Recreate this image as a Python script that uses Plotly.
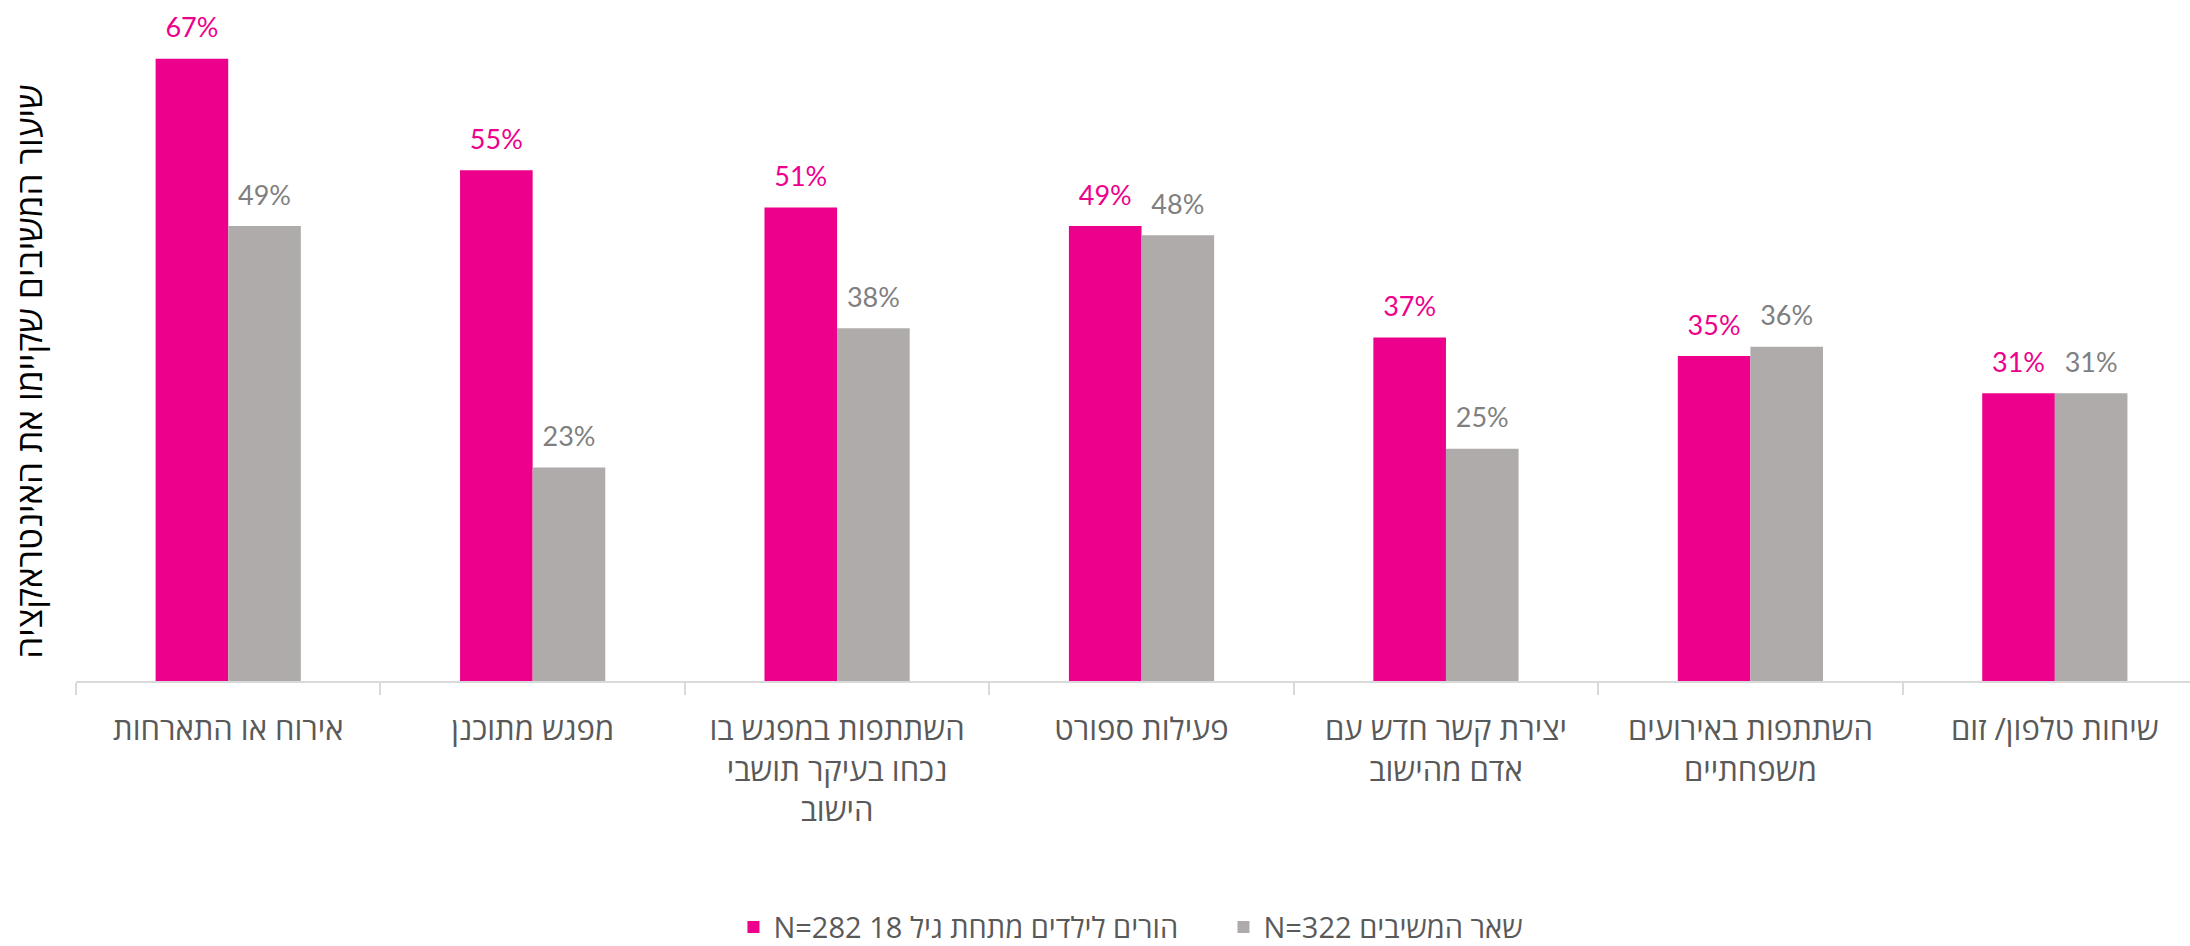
import plotly.graph_objects as go

# Interaction types (x-axis categories, Hebrew)
categories = [
    "אירוח או התארחות",
    "מפגש מתוכנן",
    "השתתפות במפגש בו<br>נכחו בעיקר תושבי<br>הישוב",
    "פעילות ספורט",
    "יצירת קשר חדש עם<br>אדם מהישוב",
    "השתתפות באירועים<br>משפחתיים",
    "שיחות טלפון/ זום",
]

# Share of respondents (%) per group
parents_pct = [67, 55, 51, 49, 37, 35, 31]
others_pct = [49, 23, 38, 48, 25, 36, 31]

series_names = [
    "\u202bהורים לילדים מתחת גיל 18 N=282\u202c",
    "\u202bשאר המשיבים N=322\u202c",
]
y_title = "שיעור המשיבים שקיימו את האינטראקציה"

PINK = "#EC008C"
GREY_BAR = "#AFABAB"
GREY_TEXT = "#7F7F7F"
TEXT_DARK = "#595959"
HEB_FONT = "Open Sans"
NUM_FONT = "Lato"

fig = go.Figure()

for name, vals, color in [
    (series_names[0], parents_pct, PINK),
    (series_names[1], others_pct, GREY_BAR),
]:
    fig.add_trace(go.Bar(
        x=categories, y=vals, name=name,
        marker=dict(color=color, line=dict(width=0)),
        hoverinfo="skip",
    ))

# Value labels above each bar, grouped the same way as the bars
for vals, color in [(parents_pct, PINK), (others_pct, GREY_TEXT)]:
    fig.add_trace(go.Scatter(
        x=categories, y=vals, mode="markers+text",
        text=[f"{v}%" for v in vals], textposition="top center",
        textfont=dict(family=NUM_FONT, size=27, color=color),
        marker=dict(size=22, opacity=0),
        showlegend=False, hoverinfo="skip", cliponaxis=False,
    ))

fig.update_layout(
    width=2190, height=946,
    margin=dict(l=76, r=0, t=31, b=265, autoexpand=False),
    paper_bgcolor="white", plot_bgcolor="white",
    barmode="group", bargap=0.523, bargroupgap=0,
    scattermode="group",
    showlegend=True,
    legend=dict(
        orientation="h", x=0.311, xanchor="left", y=-0.418, yanchor="bottom",
        font=dict(family=HEB_FONT, size=29, color=TEXT_DARK),
        itemwidth=30, entrywidth=445, entrywidthmode="pixels",
    ),
    xaxis=dict(
        type="category",
        range=[-0.5, 6.444],
        showline=True, linecolor="#D9D9D9", linewidth=2,
        ticks="outside", ticklen=12, tickcolor="#D9D9D9", tickwidth=2,
        tickson="boundaries",
        tickfont=dict(family=HEB_FONT, size=31, color=TEXT_DARK),
        ticklabelstandoff=20,
        showgrid=False, zeroline=False, automargin=False,
    ),
    yaxis=dict(
        range=[0, 70], showline=False, showgrid=False, zeroline=False,
        showticklabels=False, ticks="", automargin=False,
    ),
    annotations=[dict(
        text=y_title, textangle=-90,
        xref="paper", yref="paper", x=-0.0222, y=0.476,
        xanchor="center", yanchor="middle", showarrow=False,
        font=dict(family=HEB_FONT, size=35, color="#000000"),
    )],
)

fig.write_html("out.html")
